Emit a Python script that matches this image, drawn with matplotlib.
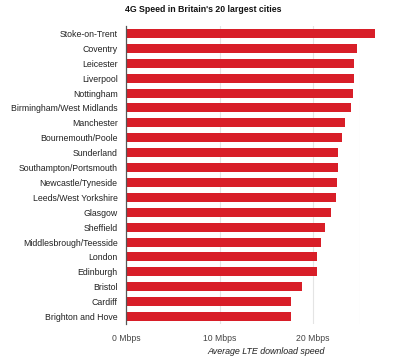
import matplotlib
matplotlib.use("Agg")
import matplotlib.pyplot as plt

cities = ["Stoke-on-Trent", "Coventry", "Leicester", "Liverpool", "Nottingham",
          "Birmingham/West Midlands", "Manchester", "Bournemouth/Poole", "Sunderland",
          "Southampton/Portsmouth", "Newcastle/Tyneside", "Leeds/West Yorkshire",
          "Glasgow", "Sheffield", "Middlesbrough/Teesside", "London", "Edinburgh",
          "Bristol", "Cardiff", "Brighton and Hove"]
speeds = [26.6, 24.7, 24.4, 24.4, 24.2, 24.0, 23.4, 23.1, 22.7, 22.6, 22.5, 22.4,
          21.9, 21.3, 20.8, 20.4, 20.4, 18.8, 17.6, 17.6]
xticks = [0, 10, 20]
xticklabels = ["0 Mbps", "10 Mbps", "20 Mbps"]

plt.rcParams['font.family'] = ['Liberation Sans', 'DejaVu Sans']

W, H = 405, 364
fig = plt.figure(figsize=(W/100, H/100), dpi=100)
ax = fig.add_axes([126/W, 1-324/H, (360-126)/W, (324-26)/H])

y = list(range(len(cities)))
ax.barh(y, speeds, height=0.6, color="#d81e28", clip_on=False, zorder=3)
ax.set_ylim(len(cities)-0.5, -0.5)
ax.set_xlim(0, 25)
ax.set_yticks(y)
ax.set_yticklabels(cities, fontsize=6.3, color="#222222")
ax.set_xticks(xticks)
ax.set_xticklabels(xticklabels, fontsize=6.2, color="#444444")
for g in [10, 20, 25]:
    ax.axvline(g, color="#e4e4e4", lw=0.8, zorder=1)
ax.tick_params(axis='both', length=0)
ax.tick_params(axis='y', pad=6)
ax.tick_params(axis='x', pad=7)
for s in ["top", "right", "bottom"]:
    ax.spines[s].set_visible(False)
ax.spines["left"].set_color("#555555")
ax.spines["left"].set_linewidth(0.9)
ax.spines["left"].set_zorder(4)

fig.text(203/W, 1-9/H, "4G Speed in Britain's 20 largest cities", ha="center", va="center",
         fontsize=6.3, fontweight="bold", color="#111111")
fig.text(266/W, 1-351/H, "Average LTE download speed", ha="center", va="center",
         fontsize=6.4, style="italic", color="#222222")

fig.savefig("out.png", dpi=100, facecolor="white")
